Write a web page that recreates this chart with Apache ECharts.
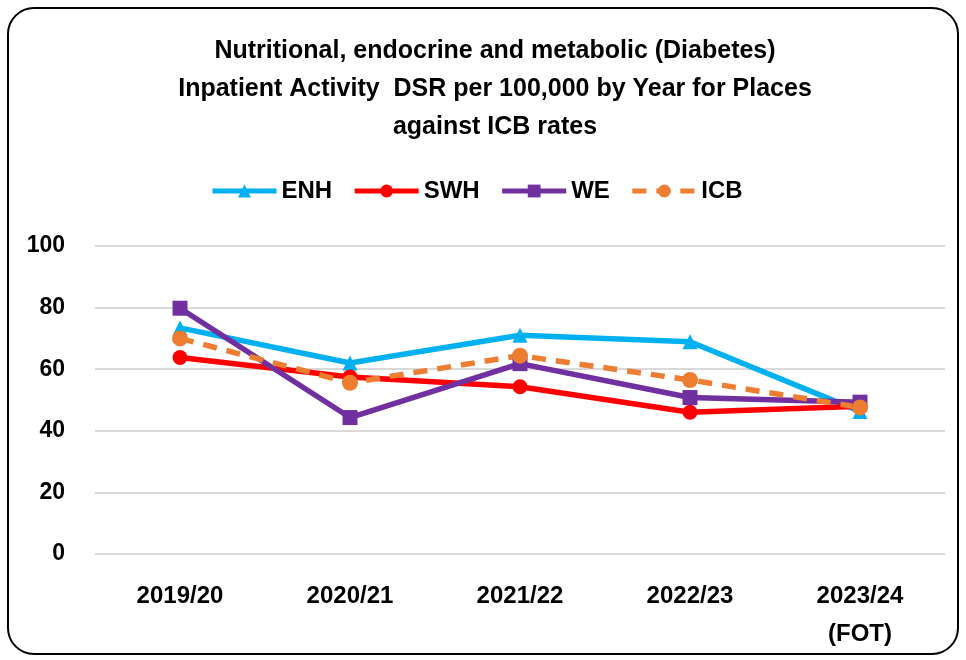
<!DOCTYPE html>
<html>
<head>
<meta charset="utf-8">
<script src="https://cdn.jsdelivr.net/npm/echarts@6/dist/echarts.min.js"></script>
<style>
  html, body { margin: 0; padding: 0; background: #fff; }
  #chart { width: 966px; height: 660px; }
</style>
</head>
<body>
<div id="chart"></div>
<script>
// categories + values
const years = ['2019/20', '2020/21', '2021/22', '2022/23', '2023/24\n(FOT)'];
const enh = [73.4, 62.0, 71.0, 68.9, 46.3];
const swh = [63.8, 57.5, 54.3, 46.0, 48.0];
const we = [79.8, 44.3, 61.8, 50.8, 49.3];
const icb = [70.0, 55.6, 64.4, 56.5, 47.6];
const yTicks = [0, 20, 40, 60, 80, 100];

const myChart = echarts.init(document.getElementById('chart'));
const font = 'Liberation Sans, sans-serif';

function line(name, data, color, symbol, size, dashed) {
  return {
    name: name,
    type: 'line',
    data: data,
    symbol: symbol,
    symbolSize: size,
    lineStyle: {color: color, width: 5.5, type: dashed ? [14, 10] : 'solid'},
    itemStyle: {color: color},
    emphasis: {disabled: true}
  };
}

const option = {
  animation: false,
  textStyle: {fontFamily: font},
  title: {
    text: 'Nutritional, endocrine and metabolic (Diabetes)\nInpatient Activity  DSR per 100,000 by Year for Places\nagainst ICB rates',
    left: 490,
    textAlign: 'center',
    top: 27,
    textStyle: {fontFamily: font, fontSize: 25, fontWeight: 'bold', color: '#000', lineHeight: 38}
  },
  legend: {
    top: 174,
    left: 205,
    itemWidth: 64,
    itemHeight: 16,
    itemGap: 20,
    lineStyle: {width: 5},
    textStyle: {fontFamily: font, fontSize: 24, fontWeight: 'bold', color: '#000'},
    data: ['ENH', 'SWH', 'WE', 'ICB']
  },
  grid: {left: 95, right: 21, top: 246, bottom: 106, containLabel: false},
  xAxis: {
    type: 'category',
    data: years,
    axisLine: {show: false},
    axisTick: {show: false},
    axisLabel: {
      fontFamily: font, fontSize: 24, fontWeight: 'bold', color: '#000',
      margin: 23, lineHeight: 38
    }
  },
  yAxis: {
    type: 'value',
    min: yTicks[0],
    max: yTicks[yTicks.length - 1],
    interval: 20,
    axisLine: {show: false},
    axisTick: {show: false},
    axisLabel: {fontFamily: font, fontSize: 23, fontWeight: 'bold', color: '#000', margin: 30},
    splitLine: {lineStyle: {color: '#d9d9d9', width: 2}}
  },
  series: [
    line('ENH', enh, '#00B0F0', 'triangle', 15, false),
    line('SWH', swh, '#FF0000', 'circle', 15, false),
    line('WE', we, '#7030A0', 'rect', 15, false),
    line('ICB', icb, '#ED7D31', 'circle', 16, true)
  ],
  graphic: [{
    type: 'rect',
    shape: {x: 8, y: 8, width: 950, height: 646, r: 26},
    style: {fill: 'none', stroke: '#000', lineWidth: 2},
    silent: true
  }]
};

myChart.setOption(option);
</script>
</body>
</html>
